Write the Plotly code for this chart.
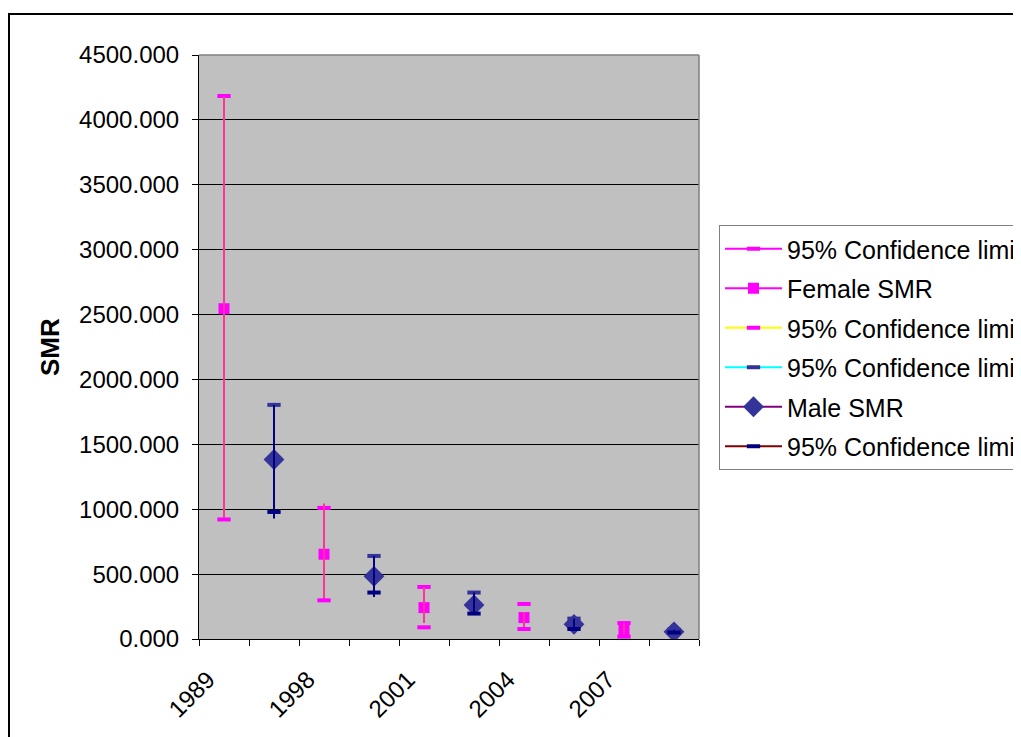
import plotly.graph_objects as go

periods = ["1989", "1998", "2001", "2004", "2007"]
female_smr = [2545, 653, 242, 165, 70]
female_upper = [4184, 1010, 401, 270, 123]
female_lower = [921, 298, 90, 77, 18]
female_line_top = [4184, 1044, 401, 208, 123]
female_line_bottom = [921, 298, 123, 80, 18]
male_smr = [1383, 483, 262, 113, 55]
male_upper = [1804, 640, 358, 157, 72]
male_lower = [979, 358, 196, 77, 50]
male_line_top = [1804, 640, 358, 157, 72]
male_line_bottom = [928, 324, 196, 77, 50]
y_ticks = [0, 500, 1000, 1500, 2000, 2500, 3000, 3500, 4000, 4500]

FONT = "Liberation Sans, Arial, sans-serif"
FS = 24
LFS = 25

fx = [2 * i + 1 for i in range(len(periods))]
mx = [2 * i + 2 for i in range(len(periods))]


def sparse(xs, ys):
    ox, oy = [], []
    for a, b in zip(xs, ys):
        ox += [a, None]
        oy += [b, None]
    return ox[:-1], oy[:-1]


def cap_trace(xs, ys, name, line_color, cap_color, group):
    sx, sy = sparse(xs, ys)
    return go.Scatter(
        x=sx, y=sy, name=name, mode="lines+markers", legendgroup=group,
        line=dict(color=line_color, width=2),
        marker=dict(symbol="line-ew", size=9.5, color=cap_color,
                    line=dict(color=cap_color, width=4)),
        connectgaps=False,
    )


def err_trace(xs, top, bottom, color):
    return go.Scatter(
        x=xs, y=bottom, mode="markers", showlegend=False, hoverinfo="skip",
        marker=dict(size=1, opacity=0),
        error_y=dict(type="data", symmetric=False,
                     array=[t - b for t, b in zip(top, bottom)],
                     arrayminus=[0] * len(bottom),
                     color=color, thickness=2, width=0),
    )


fig = go.Figure()
fig.add_trace(cap_trace(fx, female_upper, "95% Confidence limit", "#FF00FF", "#FF00FF", "g1"))
sx, sy = sparse(fx, female_smr)
fig.add_trace(go.Scatter(x=sx, y=sy, name="Female SMR", mode="lines+markers", legendgroup="g2",
                         line=dict(color="#FF00FF", width=2),
                         marker=dict(symbol="square", size=11, color="#FF00FF")))
fig.add_trace(err_trace(fx, female_line_top, female_line_bottom, "#FF3399"))
fig.add_trace(cap_trace(fx, female_lower, "95% Confidence limit", "#FFFF00", "#FF00FF", "g3"))
fig.add_trace(cap_trace(mx, male_upper, "95% Confidence limit", "#00FFFF", "#333399", "g4"))
sx, sy = sparse(mx, male_smr)
fig.add_trace(go.Scatter(x=sx, y=sy, name="Male SMR", mode="lines+markers", legendgroup="g5",
                         line=dict(color="#800080", width=2),
                         marker=dict(symbol="diamond", size=16, color="#333399")))
fig.add_trace(err_trace(mx, male_line_top, male_line_bottom, "#000080"))
fig.add_trace(cap_trace(mx, male_lower, "95% Confidence limit", "#800000", "#000080", "g6"))

# page body has an 8px margin: work in screen pixels, then convert
OFF = 8
W, H = 1021, 737
PL, PR, PT, PB = 199, 699, 55, 639          # plot area on screen
L, T = PL - OFF, PT - OFF
pw, ph = PR - PL, PB - PT
R, B = W - L - pw, H - T - ph


def px_x(sx):
    return (sx - PL) / pw


def px_y(sy):
    return (PB - sy) / ph


fig.update_layout(
    width=W, height=H,
    margin=dict(l=L, r=R, t=T, b=B, autoexpand=False),
    paper_bgcolor="white", plot_bgcolor="#C0C0C0",
    font=dict(family=FONT, size=FS, color="black"),
    showlegend=True,
    legend=dict(x=px_x(719), y=px_y(225), xanchor="left", yanchor="top",
                bgcolor="white", bordercolor="#808080", borderwidth=1,
                font=dict(family=FONT, size=LFS, color="black"),
                itemwidth=57, tracegroupgap=4, traceorder="grouped"),
    xaxis=dict(range=[0.5, 10.5], tickmode="array", tickvals=fx, ticktext=periods,
               tickangle=-45, ticks="", showgrid=False, zeroline=False,
               showline=True, linecolor="black", linewidth=1,
               ticklabelstandoff=16, ticklabelshift=-16,
               tickfont=dict(family=FONT, size=FS, color="black"),
               minor=dict(tickmode="array", tickvals=[i + 0.5 for i in range(11)],
                          ticks="outside", ticklen=6, tickcolor="black", showgrid=False)),
    yaxis=dict(range=[0, 4500], tickmode="array", tickvals=y_ticks, tickformat=".3f",
               ticks="outside", ticklen=6, tickcolor="black", ticklabelstandoff=8,
               showgrid=True, gridcolor="black", gridwidth=1, zeroline=False,
               showline=True, linecolor="black", linewidth=1,
               tickfont=dict(family=FONT, size=FS, color="black")),
    shapes=[
        dict(type="line", xref="paper", yref="paper", x0=0, x1=1, y0=1, y1=1,
             line=dict(color="#808080", width=1.5), layer="above"),
        dict(type="line", xref="paper", yref="paper", x0=1, x1=1, y0=0, y1=1,
             line=dict(color="#808080", width=1.5), layer="above"),
        dict(type="rect", xref="paper", yref="paper",
             x0=px_x(9), x1=px_x(W + 30), y0=px_y(H + 30), y1=px_y(14),
             line=dict(color="black", width=2), layer="above"),
    ],
    annotations=[
        dict(text="<b>SMR</b>", xref="paper", yref="paper", x=px_x(50), y=px_y(347),
             showarrow=False, textangle=-90, font=dict(family=FONT, size=26, color="black"),
             xanchor="center", yanchor="middle"),
    ],
)

fig.write_html("out.html")
